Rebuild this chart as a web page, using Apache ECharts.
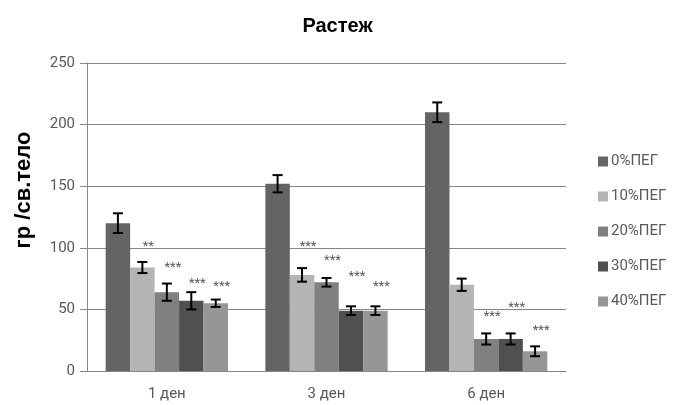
<!DOCTYPE html>
<html>
<head>
<meta charset="utf-8">
<script src="https://cdn.jsdelivr.net/npm/echarts@6/dist/echarts.min.js"></script>
<style>
  html, body { margin: 0; padding: 0; background: #fff; }
  #chart { width: 675px; height: 405px; }
</style>
</head>
<body>
<div id="chart"></div>
<script>
// данни
const categories = ['1 ден', '3 ден', '6 ден'];
const seriesNames = ['0%ПЕГ', '10%ПЕГ', '20%ПЕГ', '30%ПЕГ', '40%ПЕГ'];
const yTicks = { min: 0, max: 250, interval: 50 };

const peg0 = [120, 152, 210];
const peg10 = [84, 78, 70];
const peg20 = [64, 72, 26];
const peg30 = [57, 49, 26];
const peg40 = [55, 49, 16];

const err0 = [8, 7, 8];
const err10 = [4.5, 5.5, 5];
const err20 = [7, 3.5, 4.5];
const err30 = [7, 3.5, 4.5];
const err40 = [3, 3.5, 4];

// звездички за значимост и височината им (в единици на оста)
const stars0 = ['', '', ''];
const stars10 = ['**', '***', ''];
const stars20 = ['***', '***', '***'];
const stars30 = ['***', '***', '***'];
const stars40 = ['***', '***', '***'];
const starY0 = [0, 0, 0];
const starY10 = [101, 101, 0];
const starY20 = [84, 89.5, 44];
const starY30 = [71, 76.5, 51.5];
const starY40 = [68.5, 68, 33];

const colors = ['#646464', '#b4b4b4', '#808080', '#505050', '#969696'];
const values = [peg0, peg10, peg20, peg30, peg40];
const errors = [err0, err10, err20, err30, err40];
const stars = [stars0, stars10, stars20, stars30, stars40];
const starY = [starY0, starY10, starY20, starY30, starY40];

const catGap = 0.234;
const font = 'Roboto';

function errorSeries(k) {
  return {
    type: 'custom',
    z: 10,
    silent: true,
    data: categories.map((c, i) => [i, values[k][i], errors[k][i], starY[k][i], stars[k][i]]),
    encode: { x: 0, y: 1 },
    renderItem: function (params, api) {
      const i = api.value(0);
      const v = api.value(1);
      const e = api.value(2);
      const band = api.size([1, 0])[0];
      const barW = band * (1 - catGap) / 5;
      const cx = api.coord([i, 0])[0] + (k - 2) * barW;
      const yt = api.coord([i, v + e])[1];
      const yb = api.coord([i, v - e])[1];
      const cap = 5;
      const st = { stroke: '#000', lineWidth: 2 };
      const children = [
        { type: 'line', shape: { x1: cx, y1: yt, x2: cx, y2: yb }, style: st },
        { type: 'line', shape: { x1: cx - cap, y1: yt, x2: cx + cap, y2: yt }, style: st },
        { type: 'line', shape: { x1: cx - cap, y1: yb, x2: cx + cap, y2: yb }, style: st }
      ];
      const txt = stars[k][i];
      if (txt) {
        const sy = api.coord([i, starY[k][i]])[1];
        children.push({
          type: 'text',
          style: {
            x: cx + 6, y: sy, text: txt, align: 'center', verticalAlign: 'middle',
            fill: '#595959', font: '13px ' + font
          }
        });
      }
      return { type: 'group', children: children };
    }
  };
}

const chart = echarts.init(document.getElementById('chart'));

const barSeries = seriesNames.map((name, k) => ({
  name: name,
  type: 'bar',
  data: values[k],
  barGap: '0%',
  barCategoryGap: (catGap * 100) + '%',
  itemStyle: { color: colors[k] },
  emphasis: { disabled: true }
}));

chart.setOption({
  animation: false,
  backgroundColor: '#fff',
  title: {
    text: 'Растеж',
    left: 'center',
    top: 11,
    textStyle: { fontFamily: 'Liberation Sans', fontSize: 20, fontWeight: 'bold', color: '#000' }
  },
  // надпис на оста Y
  graphic: [{
    type: 'text',
    x: 24,
    y: 190,
    rotation: Math.PI / 2,
    style: {
      text: 'гр /св.тело',
      align: 'center',
      verticalAlign: 'middle',
      fill: '#000',
      font: 'bold 22px "Liberation Sans"'
    }
  }],
  legend: {
    data: seriesNames,
    orient: 'vertical',
    left: 593,
    top: 149,
    itemWidth: 10,
    itemHeight: 10,
    itemGap: 20,
    icon: 'rect',
    textStyle: { fontFamily: font, fontSize: 15, color: '#595959', padding: [0, 0, 0, -2] }
  },
  grid: { left: 87, right: 109, top: 63, bottom: 34 },
  xAxis: {
    type: 'category',
    data: categories,
    axisLine: { lineStyle: { color: '#868686', width: 1 } },
    axisTick: { show: false },
    axisLabel: { fontFamily: font, fontSize: 15, color: '#595959', margin: 16 }
  },
  yAxis: {
    type: 'value',
    min: yTicks.min,
    max: yTicks.max,
    interval: yTicks.interval,
    axisLine: { show: true, lineStyle: { color: '#868686', width: 1 } },
    axisTick: { show: true, length: 7, lineStyle: { color: '#868686' } },
    axisLabel: { fontFamily: font, fontSize: 15, color: '#595959', margin: 12 },
    splitLine: { lineStyle: { color: '#868686', width: 1 } }
  },
  series: barSeries.concat(seriesNames.map((n, k) => errorSeries(k)))
});
</script>
</body>
</html>
